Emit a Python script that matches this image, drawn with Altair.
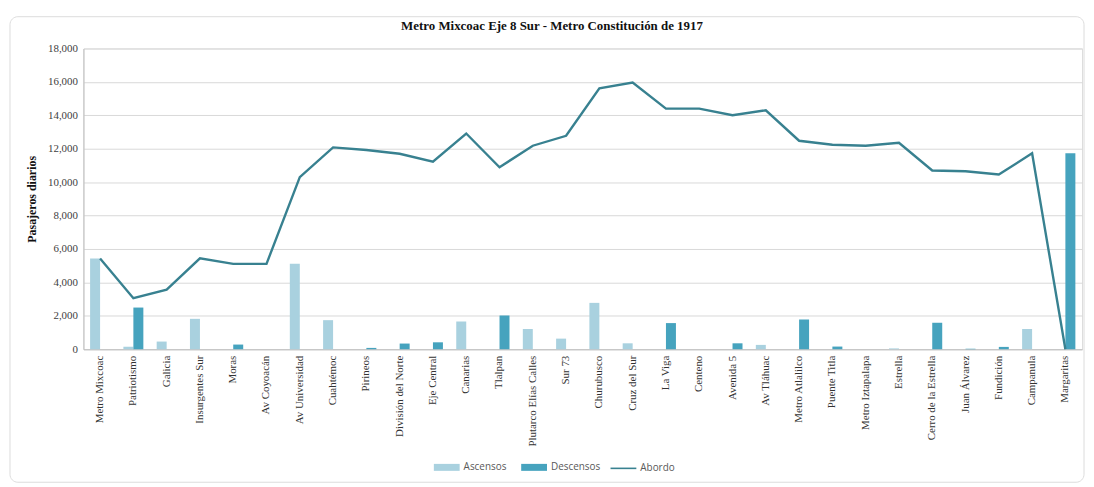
import altair as alt
import pandas as pd

stations = ["Metro Mixcoac", "Patriotismo", "Galicia", "Insurgentes Sur", "Moras",
            "Av Coyoacán", "Av Universidad", "Cuahtémoc", "Pirineos", "División del Norte",
            "Eje Central", "Canarias", "Tlalpan", "Plutarco Elías Calles", "Sur 73",
            "Churubusco", "Cruz del Sur", "La Viga", "Centeno", "Avenida 5",
            "Av Tláhuac", "Metro Atlalilco", "Puente Titla", "Metro Iztapalapa", "Estrella",
            "Cerro de la Estrella", "Juan Álvarez", "Fundición", "Campanula", "Margaritas"]

ascensos = [5425, 150, 460, 1820, 0, 0, 5110, 1740, 0, 0,
            0, 1660, 0, 1210, 635, 2775, 355, 0, 0, 0,
            260, 0, 0, 0, 50, 0, 0, 0, 1210, 0]

descensos = [0, 2495, 0, 0, 280, 0, 0, 0, 80, 340,
             415, 0, 2020, 0, 0, 0, 0, 1565, 0, 355,
             0, 1780, 160, 0, 0, 1585, 30, 140, 0, 11725]

abordo = [5425, 3050, 3565, 5445, 5110, 5110, 10300, 12080, 11925, 11700,
          11230, 12910, 10890, 12180, 12775, 15610, 15965, 14400, 14400, 14005,
          14300, 12478, 12240, 12180, 12360, 10695, 10655, 10457, 11725, 0]

y_ticks = list(range(0, 18001, 2000))

series_bar = ["Ascensos", "Descensos"]
bar_colors = ["#a9d1df", "#46a3be"]
line_color = "#388190"

bars_df = pd.DataFrame(
    [{"station": s, "serie": "Ascensos", "value": a} for s, a in zip(stations, ascensos)]
    + [{"station": s, "serie": "Descensos", "value": d} for s, d in zip(stations, descensos)]
)
line_df = pd.DataFrame({"station": stations, "value": abordo, "s": ["Abordo"] * len(stations)})

serif = "Liberation Serif"
sans = "Open Sans"

x_enc = alt.X(
    "station:N", sort=stations,
    scale=alt.Scale(paddingInner=0.4, paddingOuter=0.2),
    axis=alt.Axis(title=None, labelAngle=-90, labelAlign="right", labelBaseline="middle",
                  labelFont=serif, labelFontSize=11, labelColor="#333333", labelPadding=6,
                  ticks=False, domainColor="#bfbfbf", labelLimit=200),
)

y_axis = alt.Axis(title="Pasajeros diarios", values=y_ticks, format=",d", labelOverlap=False,
                  labelFont=serif, labelFontSize=11, labelColor="#404040", labelPadding=6,
                  titleFont=serif, titleFontSize=12, titleFontWeight="bold", titleColor="#111111",
                  titlePadding=9, ticks=False, domainColor="#bfbfbf", gridColor="#d9d9d9")
y_scale = alt.Scale(domain=[0, 18000], nice=False)

bars = alt.Chart(bars_df).mark_bar().encode(
    x=x_enc,
    xOffset=alt.XOffset("serie:N", sort=series_bar, scale=alt.Scale(paddingInner=0, paddingOuter=0)),
    y=alt.Y("value:Q", scale=y_scale, axis=y_axis),
    color=alt.Color("serie:N", sort=series_bar,
                    scale=alt.Scale(domain=series_bar, range=bar_colors),
                    legend=alt.Legend(title=None, orient="none", legendX=353, legendY=409,
                                      direction="horizontal", padding=0,
                                      symbolType="M-1,-0.27H1V0.27H-1Z", symbolSize=676,
                                      symbolStrokeWidth=0, labelFont=sans, labelFontSize=10,
                                      labelColor="#595959", labelOffset=4, columnPadding=14)),
)

line = alt.Chart(line_df).mark_line(strokeWidth=2.4).encode(
    x=alt.X("station:N", sort=stations),
    y=alt.Y("value:Q", scale=y_scale, axis=y_axis),
    stroke=alt.Stroke("s:N", scale=alt.Scale(domain=["Abordo"], range=[line_color]),
                      legend=alt.Legend(title=None, orient="none", legendX=530, legendY=409,
                                        direction="horizontal", padding=0,
                                        symbolType="stroke", symbolSize=676, symbolStrokeWidth=1.6,
                                        labelFont=sans, labelFontSize=10, labelColor="#595959",
                                        labelOffset=3)),
)

border = alt.Chart(pd.DataFrame({"a": [0]})).mark_rect(
    fill=None, stroke="#dcdcdc", strokeWidth=1, cornerRadius=8
).encode(
    x=alt.value(-74), x2=alt.value(1008), y=alt.value(-32), y2=alt.value(437)
)

chart = alt.layer(border, bars, line).properties(
    width=1006, height=303,
    title=alt.TitleParams("Metro Mixcoac Eje 8 Sur - Metro Constitución  de 1917",
                          font=serif, fontSize=13, fontWeight="bold", color="#111111",
                          anchor="middle", dx=-31, offset=-17),
    autosize=alt.AutoSizeParams(type="none"),
    padding={"left": 76, "top": 39, "right": 4, "bottom": 136},
).configure_view(stroke=None).configure(background="white")

chart.save("out.html", embed_options={"renderer": "svg", "actions": False})
